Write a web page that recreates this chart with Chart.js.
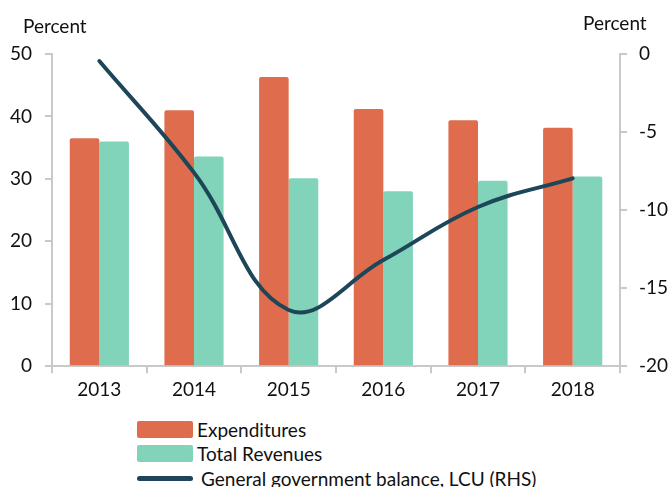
<!DOCTYPE html>
<html><head><meta charset="utf-8">
<script src="https://cdn.jsdelivr.net/npm/chart.js@4.4.0/dist/chart.umd.min.js"></script>
<style>
html,body{margin:0;padding:0;background:#fff;}
#wrap{position:relative;width:670px;height:487px;overflow:hidden;font-family:Lato,"Open Sans",sans-serif;}
#c{position:absolute;left:0;top:0;}
.lg{position:absolute;left:137px;font-size:19px;color:#111;line-height:17px;height:17px;white-space:nowrap;}
.sw{position:absolute;left:0;top:0;width:56px;height:17px;border-radius:2px;}
.ln{position:absolute;left:0;width:56px;height:5px;border-radius:3px;background:#1d4659;}
</style></head>
<body>
<div id="wrap">
<canvas id="c" width="670" height="410"></canvas>
<div class="lg" style="top:421px;"><div class="sw" style="background:#DF6C4D;"></div><span style="position:absolute;left:60px;top:0;">Expenditures</span></div>
<div class="lg" style="top:445px;"><div class="sw" style="background:#81D3BA;"></div><span style="position:absolute;left:60px;top:0;">Total Revenues</span></div>
<div class="lg" style="top:470px;"><div class="ln" style="top:6px;"></div><span style="position:absolute;left:64px;top:0;">General government balance, LCU (RHS)</span></div>
</div>
<script>
const years = ["2013","2014","2015","2016","2017","2018"];
const expenditures = [36.5, 41.0, 46.3, 41.2, 39.4, 38.2];
const totalRevenues = [36.0, 33.6, 30.1, 28.0, 29.7, 30.4];
const govBalance = [-0.45, -7.6, -16.4, -13.2, -9.8, -7.97];
const leftTicks = [0, 10, 20, 30, 40, 50];
const rightTicks = [-20, -15, -10, -5, 0];

const axisColor = "#c9c9c9";
const font = {family: "Lato", size: 19};

const titlesPlugin = {
  id: "axisTitles",
  afterDraw(chart) {
    const ctx = chart.ctx;
    ctx.save();
    ctx.fillStyle = "#111";
    ctx.font = "19px Lato";
    ctx.textBaseline = "middle";
    ctx.textAlign = "left";
    ctx.fillText("Percent", 23, 27);
    ctx.fillText("Percent", 583, 24);
    ctx.restore();
  }
};

new Chart(document.getElementById("c"), {
  type: "bar",
  data: {
    labels: years,
    datasets: [
      {label: "Expenditures", data: expenditures, backgroundColor: "#DF6C4D", yAxisID: "y", order: 1,
       barPercentage: 1.0, categoryPercentage: 0.625, borderRadius: 2, borderSkipped: "bottom"},
      {label: "Total Revenues", data: totalRevenues, backgroundColor: "#81D3BA", yAxisID: "y", order: 1,
       barPercentage: 1.0, categoryPercentage: 0.625, borderRadius: 2, borderSkipped: "bottom"},
      {type: "line", label: "General government balance, LCU (RHS)", data: govBalance, yAxisID: "y1", order: 0,
       borderColor: "#1d4659", borderWidth: 4, pointRadius: 0, tension: 0.4, fill: false, borderCapStyle: "round"}
    ]
  },
  options: {
    responsive: false,
    animation: false,
    events: [],
    layout: {padding: {top: 54, left: 0, right: 0, bottom: 4}},
    plugins: {legend: {display: false}, tooltip: {enabled: false}},
    scales: {
      x: {
        offset: true,
        grid: {display: true, drawOnChartArea: false, offset: true, color: axisColor, lineWidth: 2, tickLength: 7},
        border: {color: axisColor, width: 2},
        ticks: {color: "#111", font: font, padding: 5}
      },
      y: {
        position: "left", min: 0, max: 50,
        afterBuildTicks(s) { s.ticks = leftTicks.map(v => ({value: v})); },
        afterFit(s) { s.width = 52; },
        grid: {drawOnChartArea: false, color: axisColor, lineWidth: 2, tickLength: 7},
        border: {color: axisColor, width: 2},
        ticks: {color: "#111", font: font, padding: 13}
      },
      y1: {
        position: "right", min: -20, max: 0,
        afterBuildTicks(s) { s.ticks = rightTicks.map(v => ({value: v})); },
        afterFit(s) { s.width = 50; },
        grid: {drawOnChartArea: false, color: axisColor, lineWidth: 2, tickLength: 7},
        border: {color: axisColor, width: 2},
        ticks: {color: "#111", font: font, padding: 12}
      }
    }
  },
  plugins: [titlesPlugin]
});
</script>
</body></html>
